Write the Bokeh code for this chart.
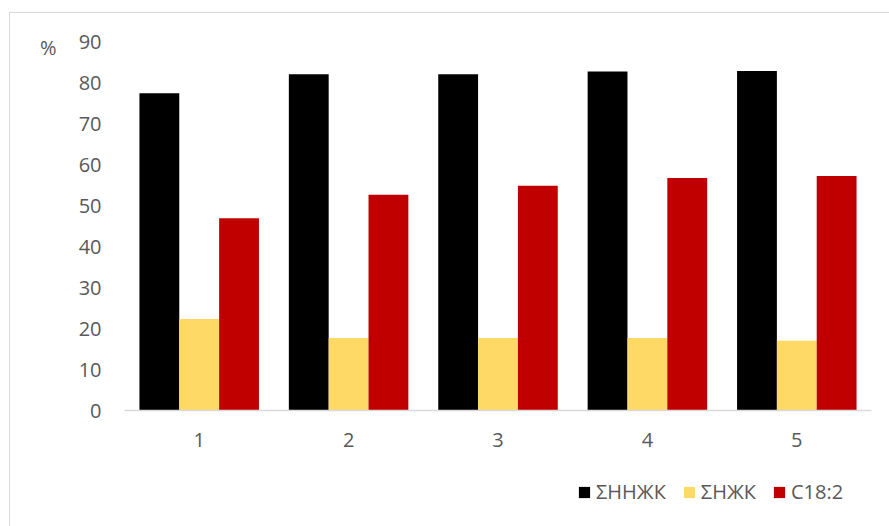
from bokeh.plotting import figure
from bokeh.layouts import column
from bokeh.models import (ColumnDataSource, Range1d, FixedTicker, Legend, LegendItem,
                          LinearAxis)
from bokeh.transform import dodge
from bokeh.embed import file_html
from bokeh.resources import INLINE

# Fatty-acid shares, % of total, for samples 1-5
categories = [1, 2, 3, 4, 5]
tick_labels = ["1", "2", "3", "4", "5"]
sum_unsat = [77.4, 82.0, 82.0, 82.7, 82.8]   # ΣННЖК
sum_sat = [22.3, 17.7, 17.7, 17.7, 17.0]     # ΣНЖК
c18_2 = [46.9, 52.6, 54.8, 56.7, 57.2]       # C18:2

series_names = ["ΣННЖК", "ΣНЖК", "C18:2"]
series_cols = ["a", "b", "c"]
series_colors = ["#000000", "#FFD966", "#C00000"]
unit_label = "%"

FONT = "Open Sans"
TEXT_GRAY = "#595959"
BORDER_GRAY = "#D9D9D9"

W, H = 889, 526
LEG_H = 70

source = ColumnDataSource(dict(x=categories, a=sum_unsat, b=sum_sat, c=c18_2))

# thin chart-area border (top and left edges) painted behind transparent canvases
area_border = {
    "background-color": "white",
    "background-image": f"linear-gradient({BORDER_GRAY}, {BORDER_GRAY}), "
                        f"linear-gradient({BORDER_GRAY}, {BORDER_GRAY})",
    "background-size": "1px 100%, 100% 1px",
    "background-position": "9px 12px, 9px 12px",
    "background-repeat": "no-repeat",
}

p = figure(width=W, height=H - LEG_H, output_backend="svg", toolbar_location=None,
           x_range=Range1d(0.5, 5.5), y_range=Range1d(0, 90),
           min_border_left=124, min_border_right=18,
           min_border_top=41, min_border_bottom=46,
           border_fill_color=None, background_fill_color=None)

bw = 0.8 / 3
offsets = [-bw, 0, bw]
for col, off, color in zip(series_cols, offsets, series_colors):
    p.vbar(x=dodge("x", off, range=p.x_range), top=col, width=bw,
           source=source, fill_color=color, line_color=None)

p.outline_line_color = None
p.xgrid.visible = False
p.ygrid.visible = False

# category axis
p.xaxis.ticker = FixedTicker(ticks=categories)
p.xaxis.major_label_overrides = {c: t for c, t in zip(categories, tick_labels)}
p.xaxis.axis_line_color = BORDER_GRAY
p.xaxis.axis_line_width = 1.5
p.xaxis.major_tick_line_color = None
p.xaxis.minor_tick_line_color = None
p.xaxis.major_label_standoff = 16
p.xaxis.major_label_text_font = FONT
p.xaxis.major_label_text_font_size = "20px"
p.xaxis.major_label_text_color = TEXT_GRAY

# value axis
p.yaxis.ticker = FixedTicker(ticks=list(range(0, 91, 10)))
p.yaxis.axis_line_color = None
p.yaxis.major_tick_line_color = None
p.yaxis.minor_tick_line_color = None
p.yaxis.major_label_standoff = 17
p.yaxis.major_label_text_font = FONT
p.yaxis.major_label_text_font_size = "20px"
p.yaxis.major_label_text_color = TEXT_GRAY

# unit label, set just outside the value axis near its top
unit_axis = LinearAxis(ticker=FixedTicker(ticks=[88.6]),
                       major_label_overrides={88.6: unit_label},
                       axis_line_color=None, major_tick_line_color=None,
                       minor_tick_line_color=None, major_label_standoff=13,
                       major_label_text_font=FONT, major_label_text_font_size="20px",
                       major_label_text_color=TEXT_GRAY)
p.add_layout(unit_axis, "left")

# legend strip under the chart; its series renderers lie below the strip's view
lg = figure(width=W, height=LEG_H, output_backend="svg", toolbar_location=None,
            x_axis_type=None, y_axis_type=None,
            x_range=Range1d(0.5, 5.5), y_range=Range1d(200, 300),
            min_border=0, border_fill_color=None, background_fill_color=None,
            outline_line_color=None)
lg.xgrid.visible = False
lg.ygrid.visible = False
swatches = [lg.vbar(x=dodge("x", off, range=lg.x_range), top=col, width=bw,
                    source=source, fill_color=color, line_color=None)
            for col, off, color in zip(series_cols, offsets, series_colors)]
legend = Legend(items=[LegendItem(label=n, renderers=[r]) for n, r in zip(series_names, swatches)],
                orientation="horizontal", location=(453, 21),
                glyph_width=14, glyph_height=14, label_standoff=5, spacing=16,
                padding=0, margin=0, border_line_color=None, background_fill_alpha=0,
                label_text_font=FONT, label_text_font_size="20px",
                label_text_color=TEXT_GRAY)
lg.add_layout(legend, "center")

page = column(p, lg, width=W, height=H, spacing=0, styles=area_border)

open("out.html", "w").write(file_html(page, INLINE))
